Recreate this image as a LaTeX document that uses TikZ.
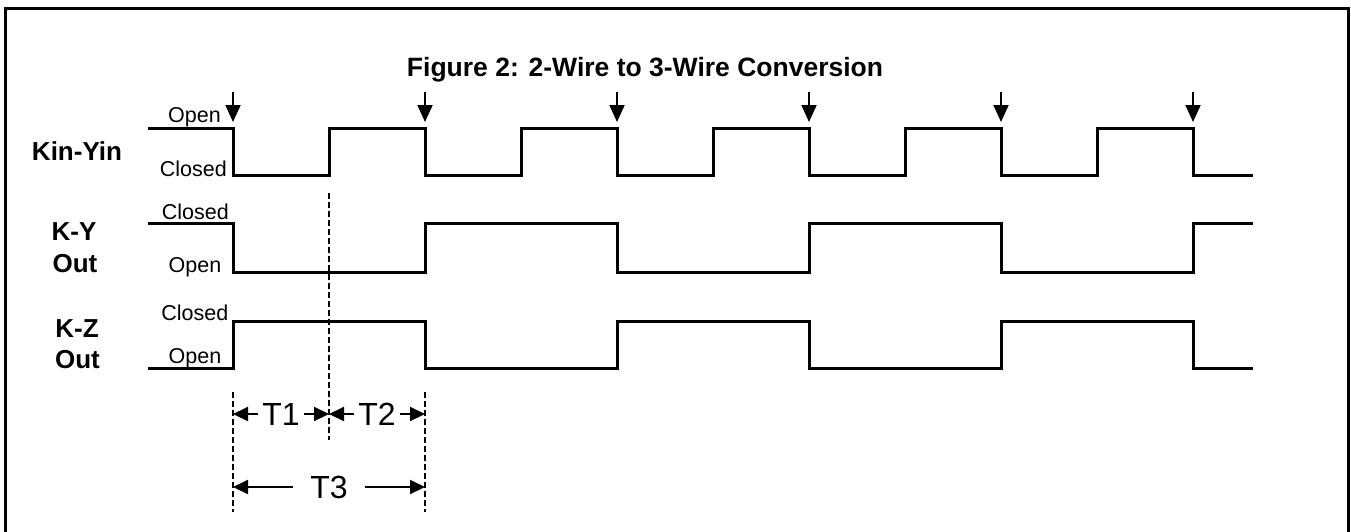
\documentclass[tikz,border=0pt]{standalone}
\usepackage{fontspec}
\setmainfont{Liberation Sans}
\usetikzlibrary{arrows.meta}
\begin{document}
\begin{tikzpicture}[x=1pt,y=-1pt,
 sig/.style={line width=3pt, line join=miter},
 guide/.style={line width=1.5pt, dash pattern=on 6pt off 3pt},
 lab/.style={font=\fontsize{21.5}{24}\selectfont, inner sep=0pt, anchor=base east},
 sname/.style={font=\bfseries\fontsize{26}{32}\selectfont, inner sep=0pt, anchor=base},
 tick/.style={line width=2pt, -{Triangle[length=17pt,width=15pt]}},
 dim/.style={line width=2pt, -{Triangle[length=15pt,width=14pt]}},
 tlab/.style={font=\fontsize{32}{34}\selectfont, inner ysep=0pt, inner xsep=4pt}]
\useasboundingbox (0,0) rectangle (1351,531);
\clip (0,0) rectangle (1351,531);
\fill[white] (0,0) rectangle (1351,531);
\draw[line width=3pt] (5,545) -- (5,8) -- (1348,8) -- (1348,545);

% title
\node[font=\bfseries\fontsize{26.5}{30}\selectfont, inner sep=0pt, anchor=base] (title) at (645,76) {Figure 2: 2-Wire to 3-Wire Conversion};

% signal names
\node[sname] (kin) at (77,160) {Kin-Yin};
\node[sname] (ky1) at (74,240) {K-Y};
\node[sname] (ky2) at (75,272) {Out};
\node[sname] (kz1) at (77,337) {K-Z};
\node[sname] (kz2) at (77.5,368) {Out};

% level labels
\node[lab] (kinopen) at (221,122) {Open};
\node[lab] (kinclosed) at (227,176) {Closed};
\node[lab] (kyclosed) at (229,219) {Closed};
\node[lab] (kyopen) at (221.5,272.5) {Open};
\node[lab] (kzclosed) at (228.5,320.5) {Closed};
\node[lab] (kzopen) at (221.5,363) {Open};

% waveforms
\draw[sig] (148,128) -| (233,175) -| (329,128) -| (425,175) -| (521,128) -| (617,175) -| (713,128) -| (809,175) -| (905,128) -| (1001,175) -| (1097,128) -| (1193,175) -- (1253,175);
\draw[sig] (148,223) -| (233,272) -| (425,223) -| (617,272) -| (809,223) -| (1001,272) -| (1193,223) -- (1253,223);
\draw[sig] (148,368) -| (233,321) -| (425,368) -| (617,321) -| (809,368) -| (1001,321) -| (1193,368) -- (1253,368);

% clock arrows
\foreach \x [count=\i] in {233,425,617,809,1001,1193}{
  \coordinate (ck\i s) at (\x,92);
  \coordinate (ck\i e) at (\x,122);
  \draw[tick] (ck\i s) -- (ck\i e);
}

% guide lines
\coordinate (gm1) at (329,193); \coordinate (gm2) at (329,440);
\coordinate (gl1) at (233,392); \coordinate (gl2) at (233,512);
\coordinate (gr1) at (425,392); \coordinate (gr2) at (425,512);
\draw[guide] (gm1) -- (gm2);
\draw[guide] (gl1) -- (gl2);
\draw[guide] (gr1) -- (gr2);

% dimensions
\node[tlab] (t1) at (281,414) {T1};
\node[tlab] (t2) at (377,414) {T2};
\node[tlab, inner xsep=17pt] (t3) at (329,487) {T3};
\coordinate (t1l) at (233,414); \coordinate (t1r) at (329,414);
\coordinate (t2l) at (329,414); \coordinate (t2r) at (425,414);
\coordinate (t3l) at (233,487); \coordinate (t3r) at (425,487);
\draw[dim] (t1.west) -- (t1l);
\draw[dim] (t1.east) -- (t1r);
\draw[dim] (t2.west) -- (t2l);
\draw[dim] (t2.east) -- (t2r);
\draw[dim] (t3.west) -- (t3l);
\draw[dim] (t3.east) -- (t3r);
\end{tikzpicture}
\end{document}
